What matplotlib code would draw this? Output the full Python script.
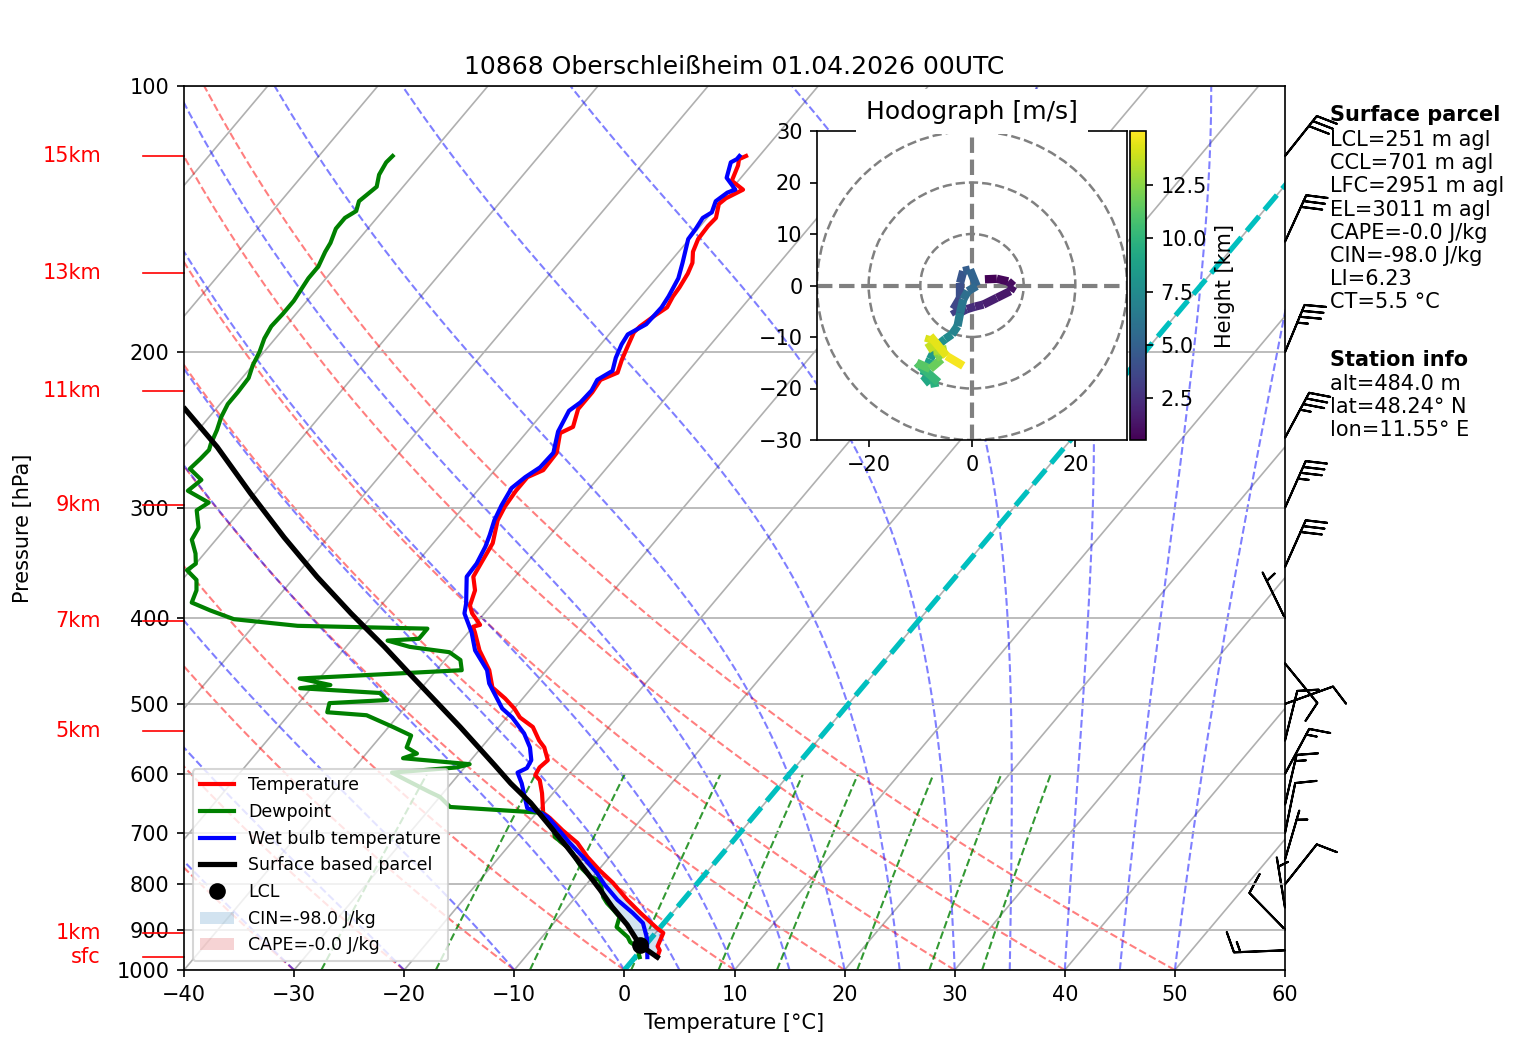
import numpy as np
import matplotlib
matplotlib.use("Agg")
import matplotlib.pyplot as plt
import matplotlib.transforms as mtransforms
from matplotlib.collections import LineCollection
from matplotlib.patches import Patch, Circle
from matplotlib.lines import Line2D
from matplotlib.ticker import FixedLocator, ScalarFormatter, NullLocator

titulo = "10868 Oberschleißheim 01.04.2026 00UTC"

# Temperatura (hPa, degC)
pres_t = [967, 950, 940, 908, 896, 862, 833, 797, 771, 745, 718, 695, 673, 664, 631, 610, 602, 590,
          579, 560, 550, 531, 518, 506, 493, 479, 458, 435, 415, 409, 407, 395, 387, 372, 359, 344,
          329, 310, 299, 287, 277, 272, 260, 247, 243, 232, 222, 215, 211, 204, 197, 190, 187, 182,
          178, 173, 169, 163, 158.5, 154, 149, 144, 141, 136, 134, 131, 128, 123, 121, 120]
temp = [2.0, 1.7, 1.2, 0.7, -0.3, -2.9, -5.1, -7.7, -9.9, -12.0, -14.0, -16.3, -18.4, -19.4, -21.0,
        -22.2, -23.0, -23.2, -23.0, -24.3, -25.3, -26.9, -28.8, -30.0, -31.6, -33.6, -35.2, -37.6,
        -39.4, -40.0, -39.5, -41.1, -41.9, -42.6, -43.8, -44.2, -44.6, -45.9, -46.3, -46.5, -46.5,
        -45.6, -45.7, -46.9, -46.2, -47.1, -47.1, -47.3, -46.3, -46.9, -47.4, -47.9, -47.8, -47.3,
        -46.8, -47.1, -47.2, -47.5, -47.9, -48.7, -49.2, -49.3, -49.2, -50.0, -49.8, -48.9, -50.6,
        -51.2, -51.6, -51.2]

# Punto de rocio
pres_td = [967, 942, 930, 918, 894, 871, 855, 840, 827, 791, 785, 768, 737, 726, 718, 707, 689, 664,
           654, 637, 629, 610, 598, 590, 585, 576, 569, 560, 543, 531, 515, 511, 499, 495, 486, 480,
           476, 468, 458, 446, 437, 431, 424, 422, 411, 408, 401, 392, 384, 372, 362, 353, 347, 338,
           326, 316, 302, 296, 287, 279, 271, 264, 258, 254, 245, 237, 229, 222, 214, 207, 200, 193,
           187, 181, 175, 170, 165, 160, 154, 150.5, 145, 141, 138.5, 135, 133, 130, 126, 122, 120]
dewp = [0.4, -0.6, -1.6, -2.2, -4.0, -4.5, -5.6, -6.7, -7.5, -9.1, -10.2, -11.6, -13.7, -14.6, -15.4,
        -16.5, -17.4, -19.5, -28.3, -30.0, -31.3, -34.3, -36.2, -30.7, -29.8, -36.3, -35.4, -36.8,
        -37.3, -39.6, -42.9, -46.7, -47.2, -42.2, -43.4, -51.0, -48.5, -51.8, -37.7, -38.6, -40.2,
        -44.2, -46.7, -44.0, -44.0, -56.0, -62.3, -65.1, -67.4, -67.9, -68.7, -70.3, -70.0, -70.8,
        -72.2, -72.5, -74.0, -73.5, -76.3, -75.9, -77.8, -77.6, -77.5, -77.8, -78.3, -78.9, -79.3,
        -79.3, -79.4, -80.0, -80.4, -81.0, -81.3, -81.2, -81.2, -81.4, -81.6, -81.6, -82.1, -82.3,
        -82.9, -82.9, -82.4, -82.9, -82.7, -82.4, -83.1, -83.4, -83.3]

# Temperatura de bulbo humedo
pres_tw = [967, 920, 885, 862, 833, 801, 777, 745, 718, 695, 671, 663, 656, 637, 615, 598, 591, 579,
           560, 540, 518, 506, 474, 458, 435, 415, 395, 385, 359, 347, 332, 322, 310, 298, 285, 277,
           270, 260, 246, 233, 228, 221, 215, 210, 203, 196, 191, 186, 178, 173, 165, 158.5, 149, 145,
           141, 139, 135, 132, 131, 127, 122, 121, 120]
wetb = [1.1, -0.4, -1.9, -3.6, -6.0, -8.3, -9.9, -12.4, -14.7, -16.6, -18.7, -19.8, -21.2, -22.3,
        -23.6, -24.8, -24.3, -24.5, -25.6, -27.2, -29.5, -31.1, -34.2, -35.4, -38.0, -39.7, -41.8,
        -42.4, -44.4, -44.5, -45.0, -45.5, -46.2, -46.7, -47.1, -46.7, -46.1, -46.0, -47.2, -47.8,
        -47.4, -47.3, -47.6, -46.9, -47.6, -48.1, -48.3, -47.4, -47.3, -47.5, -48.0, -48.8, -50.1,
        -50.2, -50.4, -50.0, -50.5, -50.1, -49.6, -51.3, -52.1, -51.8, -51.8]

# Parcela de superficie
pres_parcel = [967, 937, 889, 849, 812, 771, 726, 680, 647, 615, 587, 531, 462, 431, 395, 359, 324,
               289, 256, 232]
parcel_t = [2.0, -0.5, -3.2, -5.9, -8.3, -11.2, -14.6, -18.4, -21.3, -24.6, -27.4, -33.5, -42.2,
            -46.5, -52.1, -58.0, -64.0, -70.4, -77.0, -82.8]
lcl_p = 937
lcl_t = -0.5

# Viento (nudos)
barb_p = [950, 900, 850, 800, 750, 700, 650, 600, 550, 500, 450, 400, 350, 300, 250, 200, 150, 120]
barb_u = [15.0, 7.0, 0.8, -6.2, -1.4, -2.0, -3.4, -7.1, -2.4, -9.4, -6.3, 2.2, -12.2, -14.2, -16.6,
          -13.4, -12.5, -18.7]
barb_v = [0.6, -7.2, -4.9, -7.8, -4.8, -9.8, -14.6, -13.2, -9.7, -3.4, 7.7, -4.5, -27.4, -32.0,
          -30.9, -32.3, -27.3, -23.5]

# Hodografa (km, m/s)
hodo_h = [0.53, 0.7, 0.9, 1.1, 1.3, 1.6, 1.9, 2.2, 2.6, 3.0, 3.4, 3.8, 4.2, 4.6, 5.0, 5.3, 5.6, 6.0,
          6.4, 6.8, 7.2, 7.6, 8.0, 8.5, 9.0, 9.5, 10.0, 10.5, 11.0, 11.5, 12.0, 12.5, 13.0, 13.5, 14.0,
          14.3, 14.6, 15.04]
hodo_u = [2.5, 4.8, 7.0, 8.0, 7.4, 4.8, 2.2, 0.6, -1.0, -3.0, -3.6, -2.3, -2.3, -1.7, -0.4, 0.9,
          -0.8, -1.7, -2.3, -2.8, -3.9, -5.2, -6.8, -8.1, -9.4, -8.1, -6.5, -10.1, -10.7, -8.1, -5.9,
          -6.8, -4.9, -7.5, -8.5, -8.1, -4.9, -1.7]
hodo_v = [1.2, 1.3, 0.8, -0.1, -1.1, -2.4, -3.7, -4.1, -4.6, -5.6, -4.6, -2.4, 0.5, 2.8, 3.1, -0.1,
          -1.1, -2.7, -5.3, -7.9, -9.5, -10.4, -11.7, -14.3, -17.5, -19.1, -18.8, -15.6, -15.0, -16.2,
          -14.3, -13.0, -12.4, -12.7, -11.1, -9.8, -13.7, -15.6]
cbar_ticks = [2.5, 5.0, 7.5, 10.0, 12.5]

# Alturas (etiquetas a la izquierda)
alt_labels = ["sfc", "1km", "5km", "7km", "9km", "11km", "13km", "15km"]
alt_p = [967, 907.5, 536.6, 403, 297.8, 221.3, 162.7, 120]

parcel_info = ["LCL=251 m agl", "CCL=701 m agl", "LFC=2951 m agl", "EL=3011 m agl",
               "CAPE=-0.0 J/kg", "CIN=-98.0 J/kg", "LI=6.23", "CT=5.5 °C"]
station_info = ["alt=484.0 m", "lat=48.24° N", "lon=11.55° E"]
cin_label = "CIN=-98.0 J/kg"
cape_label = "CAPE=-0.0 J/kg"

SKEW = 29.36  # degC por ln(1000/p)
dpi = 150
W, H = 1517, 1056

fig = plt.figure(figsize=(W / dpi, H / dpi), dpi=dpi)
ax = fig.add_axes([184 / W, 86 / H, 1101 / W, 884 / H])
ax.set_yscale("log")
ax.set_xlim(-40, 60)
ax.set_ylim(1000, 100)
ax.autoscale(False)
ax.yaxis.set_major_locator(FixedLocator(np.arange(100, 1001, 100)))
ax.yaxis.set_major_formatter(ScalarFormatter())
ax.yaxis.set_minor_locator(NullLocator())
ax.set_xticks(np.arange(-40, 61, 10))
ax.yaxis.grid(True, color="#b0b0b0", lw=0.8)

s = SKEW * np.log(10) / 100
skew = ax.transData + ax.transAxes.inverted() + mtransforms.Affine2D().skew(np.arctan(s), 0) + ax.transAxes

# Isotermas
for t in np.arange(-110, 61, 10):
    ax.plot([t, t], [1000, 100], color="#b0b0b0", lw=0.8, transform=skew, zorder=0.8)

# Adiabaticas secas
p_bg = np.linspace(1000, 100, 120)
for t0 in np.arange(-40, 51, 10):
    tt = (t0 + 273.15) * (p_bg / 1000) ** 0.2857 - 273.15
    ax.plot(tt, p_bg, "r--", lw=1, alpha=0.5, transform=skew, zorder=1)

# Adiabaticas humedas
Rd, Cp, Lv, eps = 287.04749, 1004.6662, 2.50084e6, 0.6219569


def dtdp(T, p):
    es = 6.112 * np.exp(17.67 * (T - 273.15) / (T - 29.65))
    rs = eps * es / (p - es)
    return (Rd * T + Lv * rs) / (Cp + Lv * Lv * rs * eps / (Rd * T * T)) / p


t0s = np.concatenate((np.arange(-40, 0, 10), np.arange(0, 51, 5))) + 273.15
T = t0s.astype(float)
moist = [T.copy()]
for i in range(len(p_bg) - 1):
    p0, h = p_bg[i], p_bg[i + 1] - p_bg[i]
    k1 = dtdp(T, p0)
    k2 = dtdp(T + h * k1 / 2, p0 + h / 2)
    k3 = dtdp(T + h * k2 / 2, p0 + h / 2)
    k4 = dtdp(T + h * k3, p0 + h)
    T = T + h * (k1 + 2 * k2 + 2 * k3 + k4) / 6
    moist.append(T.copy())
moist = np.array(moist) - 273.15
for j in range(moist.shape[1]):
    ax.plot(moist[:, j], p_bg, "b--", lw=1, alpha=0.5, transform=skew, zorder=1)

# Lineas de razon de mezcla
p_mix = np.linspace(1000, 600, 30)
for w in [0.0004, 0.001, 0.002, 0.004, 0.007, 0.01, 0.016, 0.024, 0.032]:
    e = p_mix * w / (eps + w)
    le = np.log(e / 6.112)
    td = 243.5 * le / (17.67 - le)
    ax.plot(td, p_mix, "g--", lw=1, alpha=0.8, transform=skew, zorder=1)

ax.plot([0, 0], [1000, 100], "c--", lw=2.5, transform=skew, zorder=2)

# CIN
pt = np.array(pres_t)
tt = np.array(temp)
pp = np.array(pres_parcel)
tp = np.array(parcel_t)
m1 = pp >= 670
m2 = pt >= 664
ax.fill(np.concatenate([tp[m1], tt[m2][::-1]]), np.concatenate([pp[m1], pt[m2][::-1]]),
        color="tab:blue", alpha=0.2, lw=0, transform=skew, zorder=2)

ax.plot(temp, pres_t, "r", lw=2, transform=skew, zorder=3)
ax.plot(dewp, pres_td, "g", lw=2, transform=skew, zorder=3)
ax.plot(wetb, pres_tw, "b", lw=2, transform=skew, zorder=3)
ax.plot(parcel_t, pres_parcel, "k", lw=2.5, transform=skew, zorder=4)
ax.plot([lcl_t], [lcl_p], "ko", ms=7, transform=skew, zorder=5)

handles = [Line2D([], [], color="r", lw=2), Line2D([], [], color="g", lw=2),
           Line2D([], [], color="b", lw=2), Line2D([], [], color="k", lw=2.5),
           Line2D([], [], color="k", marker="o", ms=7, ls="none"),
           Patch(facecolor="tab:blue", alpha=0.2), Patch(facecolor="tab:red", alpha=0.2)]
labels = ["Temperature", "Dewpoint", "Wet bulb temperature", "Surface based parcel", "LCL",
          cin_label, cape_label]
ax.legend(handles, labels, loc="lower left", fontsize="small")

# Barbas de viento
ax.barbs(np.ones(len(barb_p)), barb_p, barb_u, barb_v, transform=ax.get_yaxis_transform(),
         clip_on=False, length=7)

# Alturas
for lab, p in zip(alt_labels, alt_p):
    ax.plot([-0.0372, 0], [p, p], color="r", lw=0.8, transform=ax.get_yaxis_transform(), clip_on=False)
    ax.text(-0.0754, p, lab, color="r", ha="right", va="center", transform=ax.get_yaxis_transform())

ax.set_title(titulo)
ax.set_xlabel("Temperature [°C]")
ax.set_ylabel("Pressure [hPa]")
ax.yaxis.set_label_coords(-0.137, 0.5)

# Hodografa
hax = fig.add_axes([817 / W, (H - 440) / H, 310 / W, 309 / H])
hax.set_xlim(-30, 30)
hax.set_ylim(-30, 30)
hax.set_xticks([-20, 0, 20])
hax.set_yticks(np.arange(-30, 31, 10))
for r in [10, 20, 30]:
    hax.add_patch(Circle((0, 0), r, fill=False, ls="--", color="grey", lw=1.2))
hax.axhline(0, color="grey", ls="--", lw=2)
hax.axvline(0, color="grey", ls="--", lw=2)
pts = np.array([hodo_u, hodo_v]).T.reshape(-1, 1, 2)
segs = np.concatenate([pts[:-1], pts[1:]], axis=1)
hz = np.array(hodo_h)
lc = LineCollection(segs, cmap="viridis", linewidths=4,
                    norm=plt.Normalize(hz.min(), hz.max()))
lc.set_array((hz[:-1] + hz[1:]) / 2)
hax.add_collection(lc)
hax.set_title("Hodograph [m/s]", bbox=dict(facecolor="white", edgecolor="none", pad=5))

cax = fig.add_axes([1130 / W, (H - 440) / H, 16 / W, 309 / H])
fig.colorbar(lc, cax=cax, label="Height [km]", ticks=cbar_ticks)

# Textos a la derecha
xt = 1330 / W
fig.text(xt, 1 - 115 / H, "Surface parcel", weight="bold", fontsize=10, va="center")
for i, linea in enumerate(parcel_info):
    fig.text(xt, 1 - (140 + 23.2 * i) / H, linea, fontsize=10, va="center")
fig.text(xt, 1 - 360 / H, "Station info", weight="bold", fontsize=10, va="center")
for i, linea in enumerate(station_info):
    fig.text(xt, 1 - (384 + 23.2 * i) / H, linea, fontsize=10, va="center")

fig.savefig("out.png", dpi=dpi)
